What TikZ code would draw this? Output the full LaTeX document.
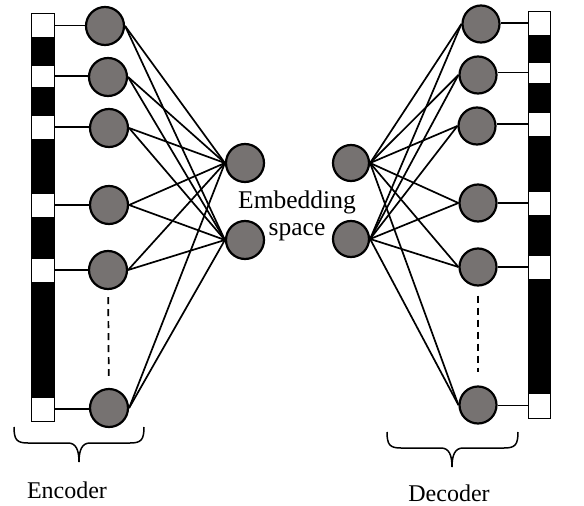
\documentclass[tikz,border=0pt]{standalone}
\usepackage{fontspec}
\setmainfont{Liberation Serif}
\usetikzlibrary{backgrounds}
\definecolor{nodegray}{RGB}{118,114,113}
\begin{document}
\begin{tikzpicture}[x=1pt,y=-1pt,
  neuron/.style={circle,draw,line width=2.2pt,fill=nodegray,minimum size=37pt,inner sep=0pt},
  cell/.style={rectangle,draw,line width=1pt,fill=white,minimum width=23pt,minimum height=24pt,inner sep=0pt},
  wire/.style={line width=1.7pt},
  dots/.style={line width=1.7pt,dash pattern=on 7pt off 5pt},
  brace/.style={line width=1.5pt},
  lbl/.style={inner sep=0pt,font=\fontsize{24}{28}\selectfont}]
\useasboundingbox (0,0) rectangle (584,506);
% bars
\draw[line width=1pt,fill=black] (31,13) rectangle (54,421);
\draw[line width=1pt,fill=black] (528,11) rectangle (550,418);
% left squares
\node[cell] (ls1) at (42.5,25.5) {};
\node[cell,minimum height=22pt] (ls2) at (42.5,76) {};
\node[cell] (ls3) at (42.5,127) {};
\node[cell] (ls4) at (42.5,205) {};
\node[cell] (ls5) at (42.5,270) {};
\node[cell] (ls6) at (42.5,409) {};
% right squares
\node[cell,minimum width=22pt] (rs1) at (539,23) {};
\node[cell,minimum width=22pt,minimum height=21pt] (rs2) at (539,72.5) {};
\node[cell,minimum width=22pt] (rs3) at (539,124) {};
\node[cell,minimum width=22pt] (rs4) at (539,203) {};
\node[cell,minimum width=22pt] (rs5) at (539,267) {};
\node[cell,minimum width=22pt,minimum height=25pt] (rs6) at (539,405.5) {};
% left neurons
\node[neuron,minimum size=38pt] (l1) at (105,26) {};
\node[neuron,minimum size=38pt] (l2) at (108,77) {};
\node[neuron,minimum size=38pt] (l3) at (109,128) {};
\node[neuron,minimum size=38pt] (l4) at (109,205) {};
\node[neuron,minimum size=38pt] (l5) at (108,270) {};
\node[neuron,minimum size=38pt] (l6) at (109,408) {};
% middle neurons
\node[neuron,minimum size=38pt] (m1) at (245,163) {};
\node[neuron,minimum size=38pt] (m2) at (245,240) {};
\node[neuron,minimum size=36pt] (n1) at (351,163) {};
\node[neuron,minimum size=36pt] (n2) at (351,239) {};
% right neurons
\node[neuron] (r1) at (481,24) {};
\node[neuron] (r2) at (478,75) {};
\node[neuron] (r3) at (477,126) {};
\node[neuron] (r4) at (478,203) {};
\node[neuron] (r5) at (478,267) {};
\node[neuron] (r6) at (478,405) {};
% connections
\begin{scope}[on background layer]
\foreach \i in {1,...,6}{
  \draw[wire] (ls\i.east) -- (ls\i.east -| l\i.west);
  \draw[wire] (rs\i.west) -- (rs\i.west -| r\i.east);
  \draw[wire] (l\i.east) -- (m1.west);
  \draw[wire] (l\i.east) -- (m2.west);
  \draw[wire] (n1.east) -- (r\i.west);
  \draw[wire] (n2.east) -- (r\i.west);
}
\end{scope}
% dashed continuation
\draw[dots,shorten <=7pt,shorten >=12pt] (l5) -- (l6);
\draw[dots,shorten <=9pt,shorten >=13pt] (r5) -- (r6);
% braces
\draw[brace] (14,427) .. controls (14,440) and (17,443) .. (28,443) -- (68,443)
  .. controls (76,443) and (79,450) .. (79,462)
  .. controls (79,450) and (82,443) .. (90,443) -- (130,443)
  .. controls (141,443) and (144,440) .. (144,427);
\draw[brace] (387,432) .. controls (387,445) and (390,448) .. (401,448) -- (441,448)
  .. controls (449,448) and (452,455) .. (452,467)
  .. controls (452,455) and (455,448) .. (463,448) -- (504,448)
  .. controls (515,448) and (518,445) .. (518,432);
% labels
\node[lbl] (enc) at (67,490) {Encoder};
\node[lbl] (dec) at (449,493) {Decoder};
\node[lbl,align=center,font=\fontsize{25.5}{27}\selectfont] (emb) at (297,216) {Embedding\\space};
\end{tikzpicture}
\end{document}
